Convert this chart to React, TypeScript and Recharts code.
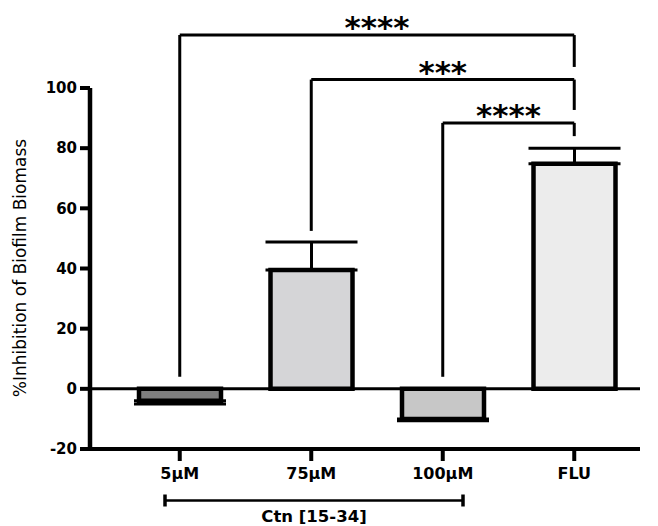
import React from 'react';
import { BarChart, Bar, XAxis, YAxis, ReferenceLine, ErrorBar, Cell } from 'recharts';

const groups = ['5µM', '75µM', '100µM', 'FLU'];
const means = [-4, 39.5, -10, 74.8];
const errLow = [1, 0, 0.6, 0];
const errHigh = [0, 9.3, 0, 5.2];
const fills = ['#7f7f7f', '#d5d5d7', '#c7c7c7', '#ececec'];
const yTicks = [-20, 0, 20, 40, 60, 80, 100];

// significance brackets: left group, right group, height, foot ends, stars
const bracketFrom = ['5µM', '75µM', '100µM'];
const bracketTo = ['FLU', 'FLU', 'FLU'];
const bracketY = [117.6, 102.8, 88.4];
const bracketFromFoot = [4, 52.5, 4];
const bracketToFoot = [107, 92.7, 84];
const bracketStars = ['****', '***', '****'];

const data = groups.map((g, i) => ({ name: g, value: means[i], err: [errLow[i], errHigh[i]] }));

const FONT = '"DejaVu Sans", Verdana, sans-serif';

const StarLabel = (props: any) => {
  const { viewBox, value } = props;
  const x = viewBox.x + viewBox.width / 2;
  const y = viewBox.y;
  return (
    <text x={x} y={y + 3} textAnchor="middle" fontFamily={FONT} fontWeight="bold" fontSize={31} fill="#000">
      {value}
    </text>
  );
};

export default function App() {
  return (
    <div style={{ position: 'absolute', left: 0, top: 0, width: 658, height: 526, background: '#fff' }}>
      <BarChart width={658} height={526} data={data} margin={{ top: 88, right: 18, left: 30, bottom: 47 }} barSize={82}>
        <XAxis
          dataKey="name"
          height={30}
          padding={{ left: 24, right: 0 }}
          axisLine={{ stroke: '#000', strokeWidth: 4 }}
          tickLine={{ stroke: '#000', strokeWidth: 4 }}
          tickSize={12}
          tickMargin={7}
          tick={{ fill: '#000', fontSize: 16, fontWeight: 'bold', fontFamily: FONT }}
          interval={0}
        />
        <YAxis
          width={60}
          domain={[-20, 100]}
          ticks={yTicks}
          allowDataOverflow
          axisLine={{ stroke: '#000', strokeWidth: 4.5 }}
          tickLine={{ stroke: '#000', strokeWidth: 4 }}
          tickSize={10}
          tickMargin={3}
          tick={{ fill: '#000', fontSize: 15, fontWeight: 'bold', fontFamily: FONT }}
        />
        <ReferenceLine y={0} stroke="#000" strokeWidth={3} />
        <Bar dataKey="value" stroke="#000" strokeWidth={4.5} isAnimationActive={false}>
          {data.map((d, i) => (
            <Cell key={d.name} fill={fills[i]} />
          ))}
          <ErrorBar dataKey="err" width={46} stroke="#000" strokeWidth={3} direction="y" />
        </Bar>
        {bracketFrom.map((f, i) => (
          <ReferenceLine
            key={'l' + i}
            ifOverflow="visible"
            stroke="#000"
            strokeWidth={3}
            segment={[{ x: f, y: bracketFromFoot[i] }, { x: f, y: bracketY[i] }]}
          />
        ))}
        {bracketFrom.map((f, i) => (
          <ReferenceLine
            key={'h' + i}
            ifOverflow="visible"
            stroke="#000"
            strokeWidth={3}
            segment={[{ x: f, y: bracketY[i] }, { x: bracketTo[i], y: bracketY[i] }]}
            label={<StarLabel value={bracketStars[i]} />}
          />
        ))}
        {bracketTo.map((t, i) => (
          <ReferenceLine
            key={'r' + i}
            ifOverflow="visible"
            stroke="#000"
            strokeWidth={3}
            segment={[{ x: t, y: bracketY[i] }, { x: t, y: bracketToFoot[i] }]}
          />
        ))}
      </BarChart>
      <div
        style={{
          position: 'absolute',
          left: 20,
          top: 268,
          transform: 'translate(-50%, -50%) rotate(-90deg)',
          whiteSpace: 'nowrap',
          fontFamily: FONT,
          fontSize: 17,
          color: '#000',
        }}
      >
        %Inhibition of Biofilm Biomass
      </div>
      <svg style={{ position: 'absolute', left: 0, top: 0 }} width={658} height={526}>
        <line x1={165} y1={500.5} x2={463} y2={500.5} stroke="#000" strokeWidth={2.5} />
        <line x1={165} y1={494.5} x2={165} y2={506.5} stroke="#000" strokeWidth={3.5} />
        <line x1={463} y1={494.5} x2={463} y2={506.5} stroke="#000" strokeWidth={3.5} />
        <text x={314} y={522} textAnchor="middle" fontFamily={FONT} fontWeight="bold" fontSize={16.5} fill="#000">
          Ctn [15-34]
        </text>
      </svg>
    </div>
  );
}
